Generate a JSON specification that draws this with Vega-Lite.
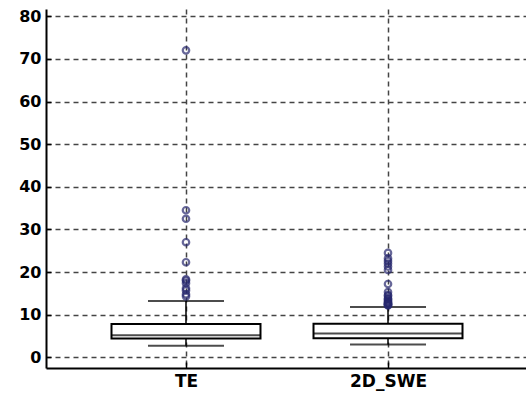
{
  "$schema": "https://vega.github.io/schema/vega-lite/v6.json",
  "width": 482,
  "height": 359,
  "autosize": "none",
  "padding": {"left": 46, "top": 9, "right": 0, "bottom": 26},
  "background": "white",
  "config": {"view": {"stroke": null}},
  "datasets": {
    "boxes": [
      {"group": "TE", "lo": 2.7, "q1": 4.4, "median": 5.2, "q3": 7.8, "hi": 13.2},
      {"group": "2D_SWE", "lo": 3.0, "q1": 4.5, "median": 5.6, "q3": 7.9, "hi": 11.8}
    ],
    "outliers": [
      {"group": "TE", "value": 72},
      {"group": "TE", "value": 34.5},
      {"group": "TE", "value": 32.5},
      {"group": "TE", "value": 27},
      {"group": "TE", "value": 22.3},
      {"group": "TE", "value": 18.3},
      {"group": "TE", "value": 18.0},
      {"group": "TE", "value": 17.4},
      {"group": "TE", "value": 16.2},
      {"group": "TE", "value": 15.7},
      {"group": "TE", "value": 14.8},
      {"group": "TE", "value": 14.3},
      {"group": "2D_SWE", "value": 24.5},
      {"group": "2D_SWE", "value": 23.2},
      {"group": "2D_SWE", "value": 22.6},
      {"group": "2D_SWE", "value": 22.0},
      {"group": "2D_SWE", "value": 21.3},
      {"group": "2D_SWE", "value": 20.5},
      {"group": "2D_SWE", "value": 17.2},
      {"group": "2D_SWE", "value": 15.3},
      {"group": "2D_SWE", "value": 14.6},
      {"group": "2D_SWE", "value": 14.4},
      {"group": "2D_SWE", "value": 13.8},
      {"group": "2D_SWE", "value": 13.6},
      {"group": "2D_SWE", "value": 13.3},
      {"group": "2D_SWE", "value": 13.0},
      {"group": "2D_SWE", "value": 12.8},
      {"group": "2D_SWE", "value": 12.6},
      {"group": "2D_SWE", "value": 12.5},
      {"group": "2D_SWE", "value": 12.4},
      {"group": "2D_SWE", "value": 12.3},
      {"group": "2D_SWE", "value": 12.2}
    ]
  },
  "layer": [
    {
      "data": {"name": "boxes"},
      "mark": {"type": "rule", "color": "black", "strokeWidth": 1.5},
      "encoding": {
        "x": {
          "field": "group", "type": "nominal", "sort": ["TE", "2D_SWE"],
          "scale": {"type": "point", "padding": 0.693},
          "axis": {
            "title": null, "grid": true, "gridDash": [5, 4], "gridColor": "#444", "gridWidth": 1.5,
            "domainColor": "black", "domainWidth": 2, "tickColor": "black", "tickSize": -6, "tickWidth": 1.5,
            "labelFont": "DejaVu Sans", "labelFontWeight": "bold", "labelFontSize": 17, "labelColor": "black",
            "labelAngle": 0, "labelPadding": 11
          }
        },
        "y": {
          "field": "lo", "type": "quantitative",
          "scale": {"domain": [-2.5, 81.7], "nice": false, "zero": false},
          "axis": {
            "title": null,
            "values": [0, 5, 10, 15, 20, 25, 30, 35, 40, 45, 50, 55, 60, 65, 70, 75, 80],
            "labelExpr": "datum.value % 10 === 0 ? datum.label : ''",
            "grid": true, "gridDash": [5, 4], "gridColor": "#444", "gridWidth": 1.5,
            "gridOpacity": {"condition": {"test": "datum.value % 10 === 0", "value": 1}, "value": 0},
            "domainColor": "black", "domainWidth": 2, "tickColor": "black", "tickWidth": 1.5,
            "tickSize": {"condition": {"test": "datum.value % 10 === 0", "value": -5}, "value": -3},
            "labelFont": "DejaVu Sans", "labelFontWeight": "bold", "labelFontSize": 16, "labelColor": "black",
            "labelPadding": 10
          }
        },
        "y2": {"field": "hi"}
      }
    },
    {
      "data": {"name": "boxes"},
      "mark": {"type": "tick", "color": "black", "size": 76, "thickness": 2},
      "encoding": {
        "x": {"field": "group", "type": "nominal", "sort": ["TE", "2D_SWE"]},
        "y": {"field": "lo", "type": "quantitative"}
      }
    },
    {
      "data": {"name": "boxes"},
      "mark": {"type": "tick", "color": "black", "size": 76, "thickness": 2},
      "encoding": {
        "x": {"field": "group", "type": "nominal", "sort": ["TE", "2D_SWE"]},
        "y": {"field": "hi", "type": "quantitative"}
      }
    },
    {
      "data": {"name": "boxes"},
      "mark": {"type": "bar", "width": 149, "fill": "white", "stroke": "black", "strokeWidth": 2},
      "encoding": {
        "x": {"field": "group", "type": "nominal", "sort": ["TE", "2D_SWE"]},
        "y": {"field": "q1", "type": "quantitative"},
        "y2": {"field": "q3"}
      }
    },
    {
      "data": {"name": "boxes"},
      "mark": {"type": "tick", "color": "black", "size": 149, "thickness": 2},
      "encoding": {
        "x": {"field": "group", "type": "nominal", "sort": ["TE", "2D_SWE"]},
        "y": {"field": "median", "type": "quantitative"}
      }
    },
    {
      "data": {"name": "outliers"},
      "mark": {"type": "point", "shape": "circle", "filled": false, "color": "#27286e", "size": 42, "strokeWidth": 2.2},
      "encoding": {
        "x": {"field": "group", "type": "nominal", "sort": ["TE", "2D_SWE"]},
        "y": {"field": "value", "type": "quantitative"}
      }
    }
  ]
}
